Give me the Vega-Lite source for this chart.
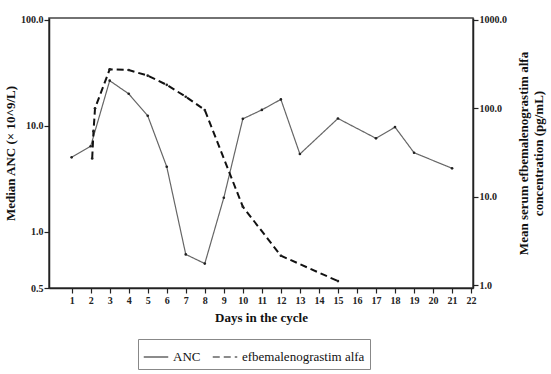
{
  "$schema": "https://vega.github.io/schema/vega-lite/v6.json",
  "width": 424,
  "height": 270,
  "autosize": "none",
  "padding": {"left": 49, "top": 18, "right": 78, "bottom": 86},
  "background": "white",
  "config": {
    "font": "Liberation Serif",
    "view": {"stroke": "#444", "strokeWidth": 1.5},
    "axis": {
      "labelFont": "Liberation Serif",
      "titleFont": "Liberation Serif",
      "labelFontSize": 10,
      "labelFontWeight": "bold",
      "labelColor": "#222",
      "titleFontSize": 13,
      "titleFontWeight": "bold",
      "titleColor": "#111",
      "domainColor": "#222",
      "domainWidth": 1.5,
      "tickColor": "#222",
      "tickWidth": 1.2,
      "tickSize": 5,
      "grid": false
    }
  },
  "datasets": {
    "anc": [
      {"day": 1, "value": 5.03, "series": "ANC"},
      {"day": 2, "value": 6.4, "series": "ANC"},
      {"day": 3, "value": 26.6, "series": "ANC"},
      {"day": 4, "value": 20.0, "series": "ANC"},
      {"day": 5, "value": 12.4, "series": "ANC"},
      {"day": 6, "value": 4.1, "series": "ANC"},
      {"day": 7, "value": 0.61, "series": "ANC"},
      {"day": 8, "value": 0.5, "series": "ANC"},
      {"day": 9, "value": 2.09, "series": "ANC"},
      {"day": 10, "value": 11.6, "series": "ANC"},
      {"day": 11, "value": 14.1, "series": "ANC"},
      {"day": 12, "value": 17.7, "series": "ANC"},
      {"day": 13, "value": 5.4, "series": "ANC"},
      {"day": 15, "value": 11.7, "series": "ANC"},
      {"day": 17, "value": 7.6, "series": "ANC"},
      {"day": 18, "value": 9.7, "series": "ANC"},
      {"day": 19, "value": 5.56, "series": "ANC"},
      {"day": 21, "value": 3.96, "series": "ANC"}
    ],
    "efb": [
      {"day": 2.08, "value": 27, "series": "efbemalenograstim alfa"},
      {"day": 2.15, "value": 55, "series": "efbemalenograstim alfa"},
      {"day": 2.23, "value": 100, "series": "efbemalenograstim alfa"},
      {"day": 3, "value": 276, "series": "efbemalenograstim alfa"},
      {"day": 4, "value": 271, "series": "efbemalenograstim alfa"},
      {"day": 5, "value": 234, "series": "efbemalenograstim alfa"},
      {"day": 6, "value": 184, "series": "efbemalenograstim alfa"},
      {"day": 7, "value": 135, "series": "efbemalenograstim alfa"},
      {"day": 8, "value": 95.7, "series": "efbemalenograstim alfa"},
      {"day": 10, "value": 7.7, "series": "efbemalenograstim alfa"},
      {"day": 12, "value": 2.15, "series": "efbemalenograstim alfa"},
      {"day": 15, "value": 1.11, "series": "efbemalenograstim alfa"}
    ]
  },
  "encoding": {
    "x": {
      "field": "day",
      "type": "quantitative",
      "scale": {"domain": [-0.19, 22.1], "nice": false, "zero": false},
      "axis": {
        "values": [1,2,3,4,5,6,7,8,9,10,11,12,13,14,15,16,17,18,19,20,21,22],
        "title": "Days in the cycle",
        "titlePadding": 6,
        "labelPadding": 2
      }
    }
  },
  "layer": [
    {
      "data": {"name": "anc"},
      "mark": {"type": "line", "color": "#666", "strokeWidth": 1.2, "point": {"filled": true, "size": 7, "color": "#222"}},
      "encoding": {
        "y": {
          "field": "value",
          "type": "quantitative",
          "scale": {"type": "log", "domain": [0.294, 103.8], "nice": false},
          "axis": {
            "orient": "left",
            "values": [0.294, 1, 10, 100],
            "labelExpr": "datum.value < 0.4 ? '0.5' : format(datum.value, '.1f')",
            "title": "Median ANC (× 10^9/L)",
            "titlePadding": 3,
            "labelPadding": 1
          }
        },
        "strokeDash": {
          "field": "series",
          "type": "nominal",
          "scale": {"domain": ["ANC", "efbemalenograstim alfa"], "range": [[1, 0], [7, 4]]},
          "legend": {
            "title": null,
            "orient": "none",
            "legendX": 89,
            "legendY": 321,
            "direction": "horizontal",
            "symbolType": "stroke",
            "symbolSize": 600,
            "labelFont": "Liberation Serif",
            "labelFontSize": 13,
            "labelColor": "#111",
            "labelLimit": 300,
            "columnPadding": 8,
            "strokeColor": "#888",
            "padding": 5,
            "encode": {
              "symbols": {
                "update": {
                  "stroke": {"value": "#111"},
                  "strokeWidth": {"value": 1.8},
                  "opacity": {"value": 1}
                }
              }
            }
          }
        }
      }
    },
    {
      "data": {"name": "efb"},
      "mark": {"type": "line", "color": "#111", "strokeWidth": 2, "point": {"filled": true, "size": 7, "color": "#222"}},
      "encoding": {
        "y": {
          "field": "value",
          "type": "quantitative",
          "scale": {"type": "log", "domain": [0.927, 1050], "nice": false},
          "axis": {
            "orient": "right",
            "values": [1, 10, 100, 1000],
            "format": ".1f",
            "title": ["Mean serum efbemalenograstim alfa", "concentration (pg/mL)"],
            "titleAngle": 270,
            "titleBaseline": "bottom",
            "titlePadding": 9,
            "labelPadding": 1
          }
        },
        "strokeDash": {"field": "series", "type": "nominal"}
      }
    }
  ],
  "resolve": {"scale": {"y": "independent"}}
}
